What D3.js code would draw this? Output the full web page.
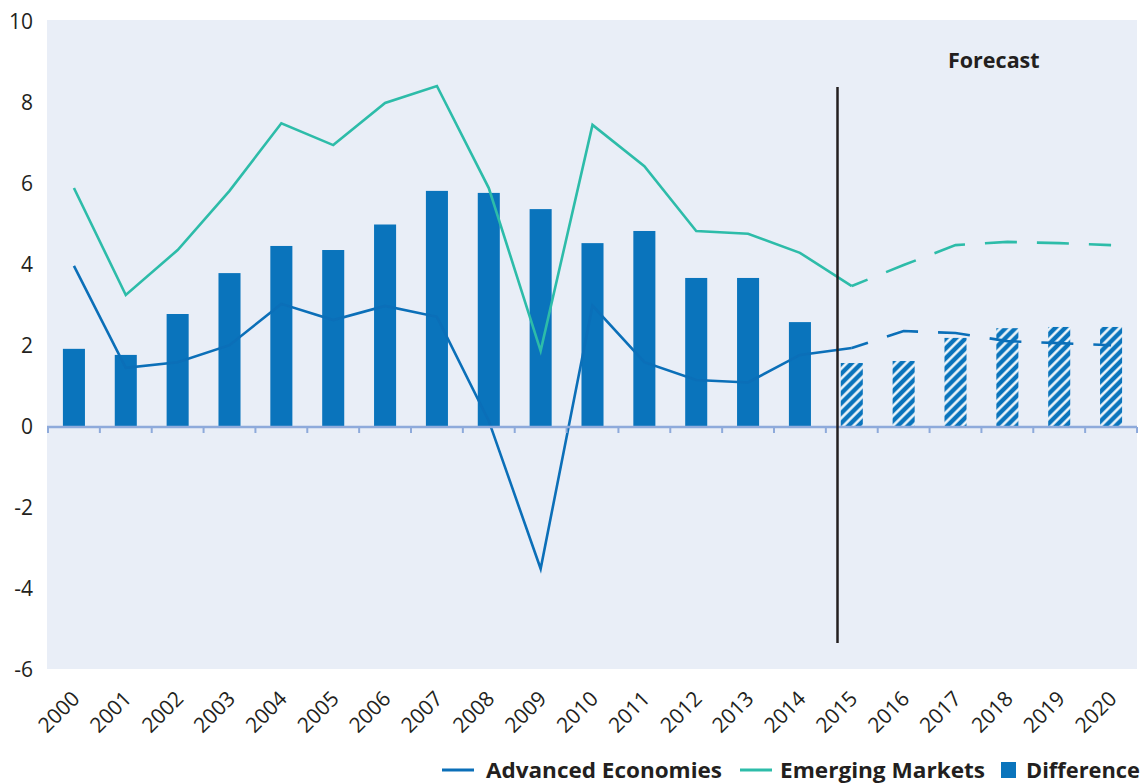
<!DOCTYPE html>
<html>
<head>
<meta charset="utf-8">
<script src="https://cdn.jsdelivr.net/npm/d3@7"></script>
<style>
  body { margin: 0; background: #fff; }
  text { font-family: "Open Sans", "Noto Sans", sans-serif; fill: #231f20; }
</style>
</head>
<body>
<div id="chart"></div>
<script>
// daten
const years = ["2000","2001","2002","2003","2004","2005","2006","2007","2008","2009","2010",
  "2011","2012","2013","2014","2015","2016","2017","2018","2019","2020"];
const advanced = [3.98, 1.46, 1.6, 2.02, 3.04, 2.64, 2.99, 2.72, 0.15, -3.5, 3.0,
  1.6, 1.16, 1.1, 1.78, 1.95, 2.37, 2.32, 2.12, 2.07, 2.02];
const emerging = [5.9, 3.26, 4.37, 5.83, 7.5, 6.96, 8.0, 8.42, 5.9, 1.88, 7.46,
  6.44, 4.84, 4.77, 4.3, 3.48, 4.0, 4.49, 4.57, 4.54, 4.49];
const difference = [1.93, 1.78, 2.79, 3.8, 4.47, 4.37, 5.0, 5.83, 5.78, 5.38, 4.54,
  4.84, 3.68, 3.68, 2.59, 1.58, 1.63, 2.2, 2.44, 2.47, 2.47];
const yTicks = [-6, -4, -2, 0, 2, 4, 6, 8, 10];
const forecastStart = "2015";

const blue = "#0a74bc";
const teal = "#2dbca9";

const svg = d3.select("#chart").append("svg")
  .attr("width", 1145)
  .attr("height", 783);

const x = d3.scaleBand()
  .domain(years)
  .range([48, 1137])
  .paddingInner(0.575)
  .paddingOuter(0.2875);

const y = d3.scaleLinear()
  .domain([-6, 10])
  .range([670, 22]);

const step = x.step();
const cx = d => x(d) + x.bandwidth() / 2;
const fIdx = years.indexOf(forecastStart);

// schraffur fuer prognose
const defs = svg.append("defs");
const pat = defs.append("pattern")
  .attr("id", "hatch")
  .attr("patternUnits", "userSpaceOnUse")
  .attr("width", 7)
  .attr("height", 7)
  .attr("patternTransform", "rotate(45)");
pat.append("rect").attr("width", 7).attr("height", 7).attr("fill", blue);
pat.append("line")
  .attr("x1", 1.5).attr("y1", 0).attr("x2", 1.5).attr("y2", 7)
  .attr("stroke", "#fff").attr("stroke-width", 2.4);

// hintergrund
svg.append("rect")
  .attr("x", 47)
  .attr("y", 20)
  .attr("width", 1090)
  .attr("height", 649)
  .attr("fill", "#e9eef7");

// y achse (bindestrich statt minuszeichen)
svg.append("g")
  .attr("transform", "translate(48,0)")
  .call(d3.axisLeft(y).tickValues(yTicks).tickFormat(d => String(d)).tickSize(0).tickPadding(15))
  .call(g => g.select(".domain").remove())
  .selectAll("text")
  .style("font-size", "21px")
  .style("fill", "#231f20")
  .style("font-family", "'Open Sans', sans-serif");

// balken
svg.append("g")
  .selectAll("rect")
  .data(years)
  .enter().append("rect")
  .attr("x", d => x(d))
  .attr("width", x.bandwidth())
  .attr("y", (d, i) => y(Math.max(0, difference[i])))
  .attr("height", (d, i) => Math.abs(y(difference[i]) - y(0)))
  .attr("fill", (d, i) => i >= fIdx ? "url(#hatch)" : blue);

// linien
const line = d3.line()
  .x(d => cx(d.year))
  .y(d => y(d.value));

function drawSeries(values, color) {
  const pts = years.map((yr, i) => ({ year: yr, value: values[i] }));
  svg.append("path")
    .datum(pts.slice(0, fIdx + 1))
    .attr("d", line)
    .attr("fill", "none")
    .attr("stroke", color)
    .attr("stroke-width", 2.6);
  svg.append("path")
    .datum(pts.slice(fIdx))
    .attr("d", line)
    .attr("fill", "none")
    .attr("stroke", color)
    .attr("stroke-width", 2.6)
    .attr("stroke-dasharray", "32,20")
    .attr("stroke-dashoffset", 15);
}
drawSeries(advanced, "#0b6fb8");
drawSeries(emerging, teal);

// x achse (nulllinie)
const xAxis = svg.append("g").attr("class", "x-axis");
xAxis.append("line")
  .attr("x1", 47).attr("x2", 1137)
  .attr("y1", y(0)).attr("y2", y(0))
  .attr("stroke", "#8eaadb")
  .attr("stroke-width", 2.5);
const bounds = years.map(d => x(d) - (step - x.bandwidth()) / 2).concat([1137]);
xAxis.selectAll(".tick")
  .data(bounds)
  .enter().append("line")
  .attr("x1", d => d).attr("x2", d => d)
  .attr("y1", y(0)).attr("y2", y(0) + 6)
  .attr("stroke", "#8eaadb")
  .attr("stroke-width", 2);

// jahr-beschriftung
svg.append("g")
  .selectAll("text")
  .data(years)
  .enter().append("text")
  .attr("transform", d => `translate(${cx(d) + 7},700) rotate(-45)`)
  .style("text-anchor", "end")
  .style("font-size", "21px")
  .text(d => d);

// prognose linie
svg.append("line")
  .attr("x1", 837.5).attr("x2", 837.5)
  .attr("y1", 87).attr("y2", 643)
  .attr("stroke", "#231f20")
  .attr("stroke-width", 2.5);

svg.append("text")
  .attr("x", 948)
  .attr("y", 68)
  .style("font-size", "21.5px")
  .style("font-weight", "bold")
  .text("Forecast");

// legende
const legend = svg.append("g").attr("class", "legend");
const ly = 770;
legend.append("line").attr("x1", 442).attr("x2", 474).attr("y1", ly).attr("y2", ly)
  .attr("stroke", "#0b6fb8").attr("stroke-width", 3);
legend.append("text").attr("x", 486).attr("y", ly + 8)
  .attr("textLength", 236).attr("lengthAdjust", "spacingAndGlyphs")
  .style("font-size", "22px").style("font-weight", "bold")
  .text("Advanced Economies");
legend.append("line").attr("x1", 740).attr("x2", 772).attr("y1", ly).attr("y2", ly)
  .attr("stroke", teal).attr("stroke-width", 3);
legend.append("text").attr("x", 780).attr("y", ly + 8)
  .attr("textLength", 205).attr("lengthAdjust", "spacingAndGlyphs")
  .style("font-size", "22px").style("font-weight", "bold")
  .text("Emerging Markets");
legend.append("rect").attr("x", 1001).attr("y", 762).attr("width", 15).attr("height", 16)
  .attr("fill", blue);
legend.append("text").attr("x", 1026).attr("y", ly + 8)
  .attr("textLength", 114).attr("lengthAdjust", "spacingAndGlyphs")
  .style("font-size", "22px").style("font-weight", "bold")
  .text("Difference");
</script>
</body>
</html>
